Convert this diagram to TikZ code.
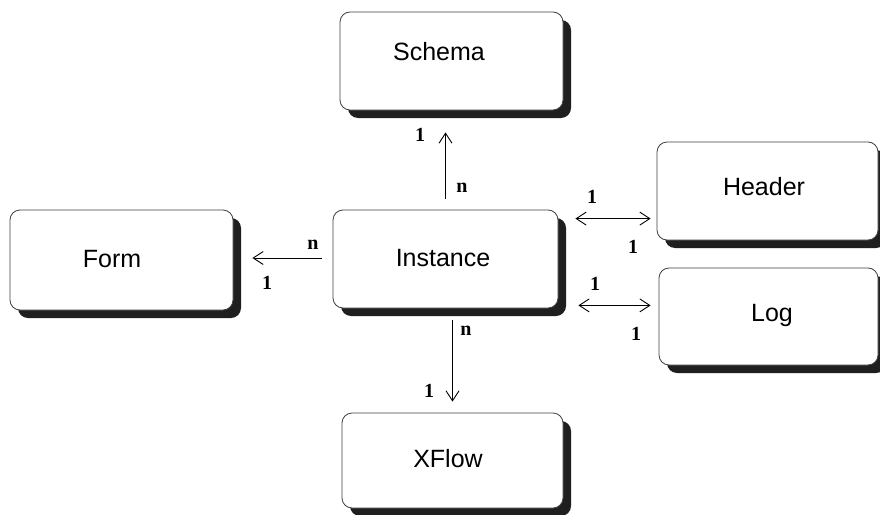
\documentclass[tikz,border=0pt]{standalone}
\usepackage{fontspec}
\setmainfont{Liberation Sans}
\newfontfamily\cardfont{Liberation Serif}
\usetikzlibrary{shadows,calc,arrows.meta}

\tikzset{
  x=1pt, y=-1pt,
  entity/.style={draw=black!75, line width=0.8pt, fill=white,
    rounded corners=10pt, inner sep=0pt,
    minimum width=223pt, minimum height=98pt,
    drop shadow={shadow xshift=8pt, shadow yshift=-8pt,
      fill=black!88, opacity=1}},
  title/.style={font=\fontsize{25}{28}\selectfont, inner sep=0pt},
  card/.style={font=\cardfont\bfseries\fontsize{20}{22}\selectfont, inner sep=0pt},
  tip/.style={Straight Barb[length=10pt,width=13pt,line width=0.9pt]},
  rel/.style={line width=0.9pt, -{Straight Barb[length=10pt,width=13pt,line width=0.9pt]}},
  relboth/.style={line width=0.9pt, {Straight Barb[length=10pt,width=13pt,line width=0.9pt]}-{Straight Barb[length=10pt,width=13pt,line width=0.9pt]}}
}

\begin{document}
\begin{tikzpicture}
\useasboundingbox[fill=white] (0,0) rectangle (880,514);

% entity boxes
\node[entity] (schema) at (451.5,61) {};
\node[entity, minimum width=225pt] (inst) at (445.5,259) {};
\node[entity, minimum height=100pt] (form) at (121.5,260) {};
\node[entity, minimum width=221pt] (header) at (767.5,191) {};
\node[entity, minimum width=219pt, minimum height=97pt] (log) at (768.5,316.5) {};
\node[entity, minimum width=221pt, minimum height=95pt] (xflow) at (452.5,460.5) {};

% entity names
\node[title] (schemaT) at (439,52) {Schema};
\node[title] (instT) at (443,258) {Instance};
\node[title] (formT) at (112,259) {Form};
\node[title] (headerT) at (764,187) {Header};
\node[title] (logT) at (772,315) {Log};
\node[title] (xflowT) at (448,459) {XFlow};

% relationship end points
\coordinate (s1) at ($(inst.north)+(0,11pt)$);
\coordinate (s2) at ($(inst.north |- schema.south)+(0,-22pt)$);
\coordinate (x1) at ($(xflow.north |- inst.south)+(0,-12pt)$);
\coordinate (x2) at ($(xflow.north)+(0,11pt)$);
\coordinate (f1) at ($(inst.west)+(-11pt,1pt)$);
\coordinate (f2) at ($(form.east |- f1)+(19pt,0)$);
\coordinate (h1) at ($(inst.north east)+(17pt,-9pt)$);
\coordinate (h2) at ($(h1 -| header.west)+(-6pt,0)$);
\coordinate (l1) at ($(inst.south east)+(20pt,3pt)$);
\coordinate (l2) at ($(l1 -| log.west)+(-8pt,0)$);

% relationships
\draw[rel] (s1) -- (s2);
\draw[rel] (x1) -- (x2);
\draw[rel] (f1) -- (f2);
\draw[relboth] (h1) -- (h2);
\draw[relboth] (l1) -- (l2);

% cardinalities
\node[card] (cs1) at (420,135) {1};
\node[card] (csn) at (462,188) {n};
\node[card] (cfn) at (313,245) {n};
\node[card] (cf1) at (267,283) {1};
\node[card] (ch1) at (592,197) {1};
\node[card] (ch2) at (633,247) {1};
\node[card] (cl1) at (595,284) {1};
\node[card] (cl2) at (636,334) {1};
\node[card] (cxn) at (466,331) {n};
\node[card] (cx1) at (429,391) {1};
\end{tikzpicture}
\end{document}
